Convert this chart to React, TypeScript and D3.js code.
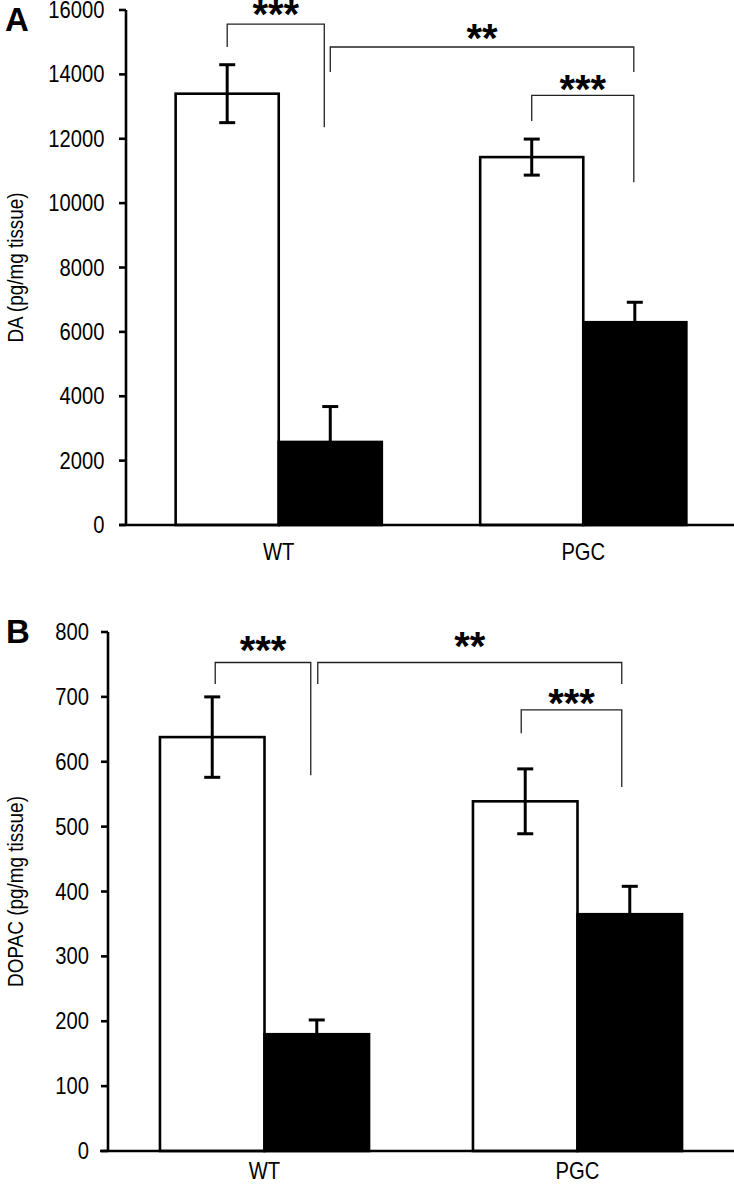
import React from 'react';
import * as d3 from 'd3';

const groups = ['WT', 'PGC'];
const seriesKeys = ['control', 'treated'];
const seriesFill = ['#ffffff', '#000000'];

// Panel A: DA
const daControl = [13400, 11430];
const daTreated = [2580, 6300];
const daControlErr = [900, 560];
const daTreatedErr = [1100, 620];
const daTicks = [0, 2000, 4000, 6000, 8000, 10000, 12000, 14000, 16000];

// Panel B: DOPAC
const dopacControl = [638, 539];
const dopacTreated = [180, 365];
const dopacControlErr = [62, 50];
const dopacTreatedErr = [22, 43];
const dopacTicks = [0, 100, 200, 300, 400, 500, 600, 700, 800];

type Bracket = {
  a: [string, string]; b: [string, string];
  top: number; aEnd: number; bEnd: number; label: string; labelY: number;
  dxa: number; dxb: number;
};

const daBrackets: Bracket[] = [
  { a: ['WT', 'control'], b: ['WT', 'treated'], top: 15560, aEnd: 14850, bEnd: 12360, label: '***', labelY: 16040, dxa: 0, dxb: -6 },
  { a: ['WT', 'treated'], b: ['PGC', 'treated'], top: 14850, aEnd: 14070, bEnd: 14070, label: '**', labelY: 15280, dxa: 0, dxb: -1 },
  { a: ['PGC', 'control'], b: ['PGC', 'treated'], top: 13350, aEnd: 12550, bEnd: 10650, label: '***', labelY: 13700, dxa: 0, dxb: -1 },
];
const dopacBrackets: Bracket[] = [
  { a: ['WT', 'control'], b: ['WT', 'treated'], top: 753, aEnd: 720, bEnd: 579, label: '***', labelY: 780, dxa: 3, dxb: -6 },
  { a: ['WT', 'treated'], b: ['PGC', 'treated'], top: 753, aEnd: 720, bEnd: 720, label: '**', labelY: 786, dxa: 1, dxb: -8 },
  { a: ['PGC', 'control'], b: ['PGC', 'treated'], top: 680, aEnd: 644, bEnd: 561, label: '***', labelY: 698, dxa: -4, dxb: -8 },
];

const FONT = "'Liberation Sans', Arial, Helvetica, sans-serif";
const CONDENSE = 0.86;

type PanelProps = {
  letter: string; letterX: number; letterY: number;
  yLabel: string; yLabelX: number;
  axisX: number; xStart: number; xEnd: number; tickLabelGap: number;
  yTop: number; yBottom: number; yMax: number; ticks: number[];
  bandStart: number; bandEnd: number; padInner: number; padOuter: number;
  control: number[]; treated: number[]; controlErr: number[]; treatedErr: number[];
  brackets: Bracket[]; catLabelY: number;
};

function Panel(p: PanelProps) {
  const y = d3.scaleLinear().domain([0, p.yMax]).range([p.yBottom, p.yTop]);
  const x0 = d3.scaleBand<string>().domain(groups).range([p.bandStart, p.bandEnd])
    .paddingInner(p.padInner).paddingOuter(p.padOuter);
  const x1 = d3.scaleBand<string>().domain(seriesKeys).range([0, x0.bandwidth()]).padding(0);
  const vals = [p.control, p.treated];
  const errs = [p.controlErr, p.treatedErr];
  const cx = (g: string, s: string) => (x0(g) as number) + (x1(s) as number) + x1.bandwidth() / 2;
  const capW = 16;
  const starSize = 40;

  return (
    <g>
      <text x={p.letterX} y={p.letterY} fontFamily={FONT} fontWeight="bold" fontSize={33}>{p.letter}</text>
      <text transform={`translate(${p.yLabelX},${(p.yTop + p.yBottom) / 2}) rotate(-90) scale(${CONDENSE},1)`}
        textAnchor="middle" dominantBaseline="central" fontFamily={FONT} fontSize={22}>{p.yLabel}</text>
      {/* bars */}
      {groups.map((g, gi) => seriesKeys.map((s, si) => {
        const v = vals[si][gi];
        return (
          <rect key={g + s} x={(x0(g) as number) + (x1(s) as number)} y={y(v)}
            width={x1.bandwidth()} height={y(0) - y(v)}
            fill={seriesFill[si]} stroke="#000" strokeWidth={2.6} />
        );
      }))}
      {/* error bars */}
      {groups.map((g, gi) => seriesKeys.map((s, si) => {
        const v = vals[si][gi];
        const e = errs[si][gi];
        const c = cx(g, s);
        return (
          <g key={'e' + g + s} stroke="#000" strokeWidth={3}>
            <line x1={c} x2={c} y1={y(v + e)} y2={y(v - e)} />
            <line x1={c - capW / 2} x2={c + capW / 2} y1={y(v + e)} y2={y(v + e)} />
            <line x1={c - capW / 2} x2={c + capW / 2} y1={y(v - e)} y2={y(v - e)} />
          </g>
        );
      }))}
      {/* y axis */}
      <line x1={p.axisX} x2={p.axisX} y1={y(p.yMax)} y2={y(0)} stroke="#000" strokeWidth={2.6} />
      {p.ticks.map(t => (
        <g key={t}>
          <line x1={p.axisX - 7} x2={p.axisX} y1={y(t)} y2={y(t)} stroke="#000" strokeWidth={2.6} />
          <text transform={`translate(${p.axisX - p.tickLabelGap},${y(t)}) scale(${CONDENSE},1)`}
            textAnchor="end" dominantBaseline="central"
            fontFamily={FONT} fontSize={23.5}>{t}</text>
        </g>
      ))}
      {/* x axis */}
      <line x1={p.xStart} x2={p.xEnd} y1={y(0)} y2={y(0)} stroke="#000" strokeWidth={2.6} />
      {groups.map(g => (
        <text key={g} transform={`translate(${(x0(g) as number) + x0.bandwidth() / 2},${p.catLabelY}) scale(${CONDENSE},1)`}
          textAnchor="middle" fontFamily={FONT} fontSize={23.5}>{g}</text>
      ))}
      {/* significance brackets */}
      {p.brackets.map((b, i) => {
        const xa = cx(b.a[0], b.a[1]) + b.dxa;
        const xb = cx(b.b[0], b.b[1]) + b.dxb;
        const path = `M${xa},${y(b.aEnd)}V${y(b.top)}H${xb}V${y(b.bEnd)}`;
        return (
          <g key={i}>
            <path d={path} fill="none" stroke="#222" strokeWidth={1.3} />
            <text x={(xa + xb) / 2} y={y(b.labelY) + starSize * 0.47} textAnchor="middle"
              fontFamily={FONT} fontWeight="bold" fontSize={starSize}>{b.label}</text>
          </g>
        );
      })}
    </g>
  );
}

export default function App() {
  return (
    <svg width={734} height={1184} style={{ display: 'block', position: 'absolute', left: 0, top: 0, background: '#fff' }}>
      <rect width={734} height={1184} fill="#fff" />
      <Panel letter="A" letterX={5} letterY={31} yLabel="DA (pg/mg tissue)" yLabelX={15}
        axisX={126} xStart={119} xEnd={734} tickLabelGap={21.5} yTop={10} yBottom={525} yMax={16000} ticks={daTicks}
        bandStart={126} bandEnd={736} padInner={0.323} padOuter={0.163}
        control={daControl} treated={daTreated} controlErr={daControlErr} treatedErr={daTreatedErr}
        brackets={daBrackets} catLabelY={560} />
      <Panel letter="B" letterX={6} letterY={643} yLabel="DOPAC (pg/mg tissue)" yLabelX={15}
        axisX={108} xStart={100} xEnd={734} tickLabelGap={19} yTop={632} yBottom={1151} yMax={800} ticks={dopacTicks}
        bandStart={108} bandEnd={734} padInner={0.332} padOuter={0.166}
        control={dopacControl} treated={dopacTreated} controlErr={dopacControlErr} treatedErr={dopacTreatedErr}
        brackets={dopacBrackets} catLabelY={1179} />
    </svg>
  );
}
